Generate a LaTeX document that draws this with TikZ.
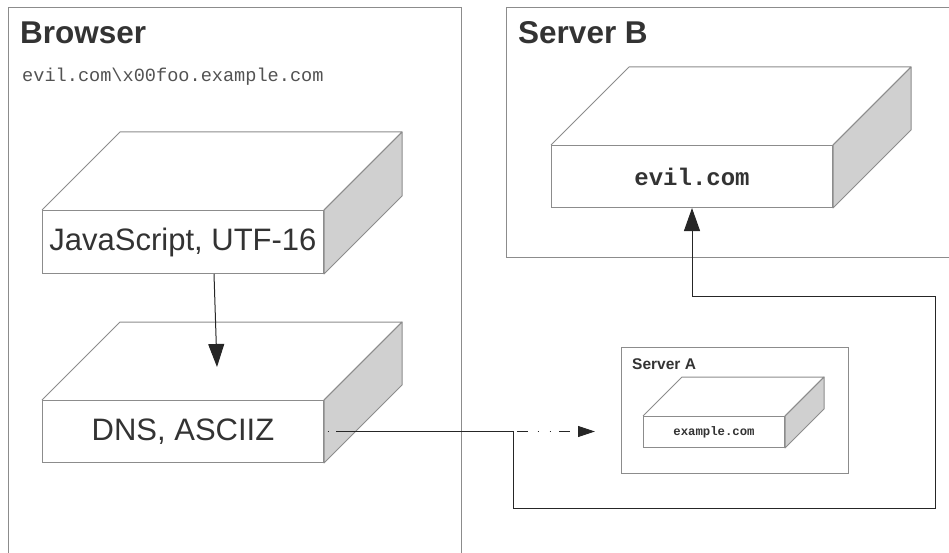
\documentclass[tikz,border=0pt]{standalone}
\usepackage{fontspec}
\setmainfont{Liberation Sans}
\setmonofont{Liberation Mono}
\usepackage{xcolor}
\usetikzlibrary{positioning,arrows.meta}

\definecolor{edgegray}{HTML}{8C8C8C}
\definecolor{sidegray}{HTML}{D0D0D0}
\definecolor{inkgray}{HTML}{333333}

% top and right side of a slab whose front face is node #1, depth #2
\newcommand{\slabback}[2]{%
  \filldraw[slabedge,fill=sidegray] (#1.north east) -- ++(#2,-#2)
    -- ([shift={(#2,-#2)}]#1.south east) -- (#1.south east) -- cycle;
  \draw[slabedge] (#1.north west) -- ++(#2,-#2)
    -- ([shift={(#2,-#2)}]#1.north east) -- (#1.north east);
}

\begin{document}
\begin{tikzpicture}[
  x=1pt, y=-1pt,
  every node/.style={inner sep=0pt},
  zone/.style={draw=edgegray,line width=1pt,anchor=north west},
  title/.style={font=\bfseries\fontsize{31.5}{36}\selectfont,text=inkgray,
                anchor=base west},
  face/.style={draw=edgegray,line width=1pt,fill=white,anchor=north west,
               text=inkgray,align=center},
  slabedge/.style={draw=edgegray,line width=1pt,line join=round},
  link/.style={line width=1pt,draw=black!85,
               -{Triangle[length=23pt,width=16pt]}},
  probe/.style={line width=1pt,draw=black!85,
                -{Triangle[length=17pt,width=11pt]},
                dash pattern=on 11pt off 9.5pt on 1pt off 11pt on 1pt off 8.5pt,
                dash phase=17pt}
]
\useasboundingbox (0,0) rectangle (949,553);

% containers
\node[zone,minimum width=453pt,minimum height=549pt] (browser) at (8,7) {};
\node[zone,minimum width=446pt,minimum height=250pt] (serverb) at (506,7) {};
\node[zone,minimum width=227pt,minimum height=126pt] (servera) at (621,347) {};

\node[title] (browsertitle) at (20,44) {Browser};
\node[title] (serverbtitle) at (518,44) {Server B};
\node[title,font=\bfseries\fontsize{15.5}{18}\selectfont] (serveratitle)
  at (632,369) {Server A};

\node[anchor=base west,font=\ttfamily\fontsize{18.6}{22}\selectfont,
      text=inkgray!85] (hostname) at (22,82)
  {evil.com\textbackslash x00foo.example.com};

% slabs
\node[face,minimum width=281pt,minimum height=63pt,
      font=\fontsize{31}{36}\selectfont] (js) at (42,210)
  {JavaScript, UTF-16};
\slabback{js}{78}
\node[face,minimum width=281pt,minimum height=62pt,
      font=\fontsize{31}{36}\selectfont] (dns) at (42,400)
  {DNS, ASCIIZ};
\slabback{dns}{78}
\node[face,minimum width=281pt,minimum height=62pt,
      font=\ttfamily\bfseries\fontsize{24}{28}\selectfont] (evil) at (551,145)
  {evil.com};
\slabback{evil}{78}
\node[face,minimum width=141pt,minimum height=31pt,
      font=\ttfamily\bfseries\fontsize{12.3}{14}\selectfont] (example) at (643,416)
  {example.com};
\slabback{example}{39}

% connectors
\coordinate (dnsin) at (217,367);
\draw[link] ([xshift=31pt]js.south) -- (dnsin);

\draw[probe,shorten >=26pt] (dns.east) -- (dns.east -| servera.west);
\draw[link] ([xshift=12pt]dns.east) -- ++(177,0) -- ++(0,77)
  -| ++(422,-212) -| (evil.south);
\end{tikzpicture}
\end{document}
